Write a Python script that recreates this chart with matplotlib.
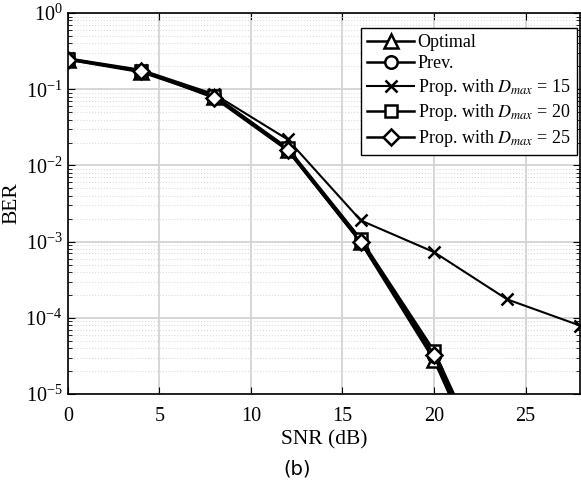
import matplotlib
matplotlib.use("Agg")
import matplotlib.pyplot as plt
from matplotlib.ticker import LogLocator, NullFormatter, FixedFormatter, FixedLocator

# SNR points (dB) and BER curves
snr = [0, 4, 8, 12, 16, 20, 24]
snr_prop15 = [0, 4, 8, 12, 16, 20, 24, 28]

ber_optimal = [0.245, 0.168, 0.080, 0.0160, 9.8e-4, 2.8e-5, 2.0e-7]
ber_prev = [0.250, 0.172, 0.082, 0.0165, 1.0e-3, 3.2e-5, 2.4e-7]
ber_prop15 = [0.255, 0.180, 0.086, 0.0220, 1.9e-3, 7.3e-4, 1.75e-4, 7.9e-5]
ber_prop20 = [0.250, 0.175, 0.082, 0.0170, 1.08e-3, 3.7e-5, 3.0e-7]
ber_prop25 = [0.245, 0.175, 0.077, 0.0158, 9.8e-4, 3.3e-5, 2.5e-7]

labels = ["Optimal", "Prev.",
          r"Prop. with $D_{max}$ = 15",
          r"Prop. with $D_{max}$ = 20",
          r"Prop. with $D_{max}$ = 25"]

yticks = [1e-5, 1e-4, 1e-3, 1e-2, 1e-1, 1]
ytick_labels = [r"$\mathregular{10^{-5}}$", r"$\mathregular{10^{-4}}$",
                r"$\mathregular{10^{-3}}$", r"$\mathregular{10^{-2}}$",
                r"$\mathregular{10^{-1}}$", r"$\mathregular{10^{0}}$"]

plt.rcParams["font.family"] = "Liberation Serif"
plt.rcParams["mathtext.fontset"] = "stix"

fig = plt.figure(figsize=(5.81, 4.83), dpi=100)
ax = fig.add_axes([0.117, 0.184, 0.882, 0.789])

mk = dict(color="black", markerfacecolor="white", markeredgecolor="black",
          markeredgewidth=1.8)
ax.semilogy(snr, ber_optimal, marker="^", markersize=10, linewidth=1.8, label=labels[0], **mk)
ax.semilogy(snr, ber_prev, marker="o", markersize=9, linewidth=1.8, label=labels[1], **mk)
ax.semilogy(snr_prop15, ber_prop15, marker="x", markersize=8, linewidth=1.5, label=labels[2], **mk)
ax.semilogy(snr, ber_prop20, marker="s", markersize=8, linewidth=1.8, label=labels[3], **mk)
ax.semilogy(snr, ber_prop25, marker="D", markersize=8, linewidth=1.8, label=labels[4], **mk)

ax.set_xlim(0, 28)
ax.set_ylim(1e-5, 1)
ax.set_xticks([0, 5, 10, 15, 20, 25])
ax.yaxis.set_major_locator(FixedLocator(yticks))
ax.yaxis.set_major_formatter(FixedFormatter(ytick_labels))
ax.yaxis.set_minor_locator(LogLocator(base=10, subs=range(2, 10), numticks=20))
ax.yaxis.set_minor_formatter(NullFormatter())

ax.grid(True, which="major", color="#d3d3d3", linewidth=1.3, linestyle="-")
ax.grid(True, which="minor", axis="y", color="#dcdcdc", linewidth=0.8, linestyle=":")
ax.set_axisbelow(True)
ax.tick_params(which="both", direction="in", top=True, right=True, labelsize=14.5)
ax.tick_params(which="major", length=5, pad=4)
ax.tick_params(which="minor", length=3)
ax.tick_params(axis="x", which="major", pad=9)
for s in ax.spines.values():
    s.set_linewidth(1.2)

ax.set_xlabel("SNR (dB)", fontsize=15.5, labelpad=3)
ax.set_ylabel("BER", fontsize=15.5, labelpad=3)

leg = ax.legend(loc="upper right", bbox_to_anchor=(0.993, 0.962), fontsize=13,
                fancybox=False, framealpha=1, edgecolor="black",
                handlelength=2.6, handletextpad=0.2, labelspacing=0.25,
                borderpad=0.35, borderaxespad=0.0)
leg.get_frame().set_linewidth(1.0)

fig.text(0.487, 0.018, "(b)", fontsize=14, family="DejaVu Sans", ha="left")

fig.savefig("out.png", dpi=100)
